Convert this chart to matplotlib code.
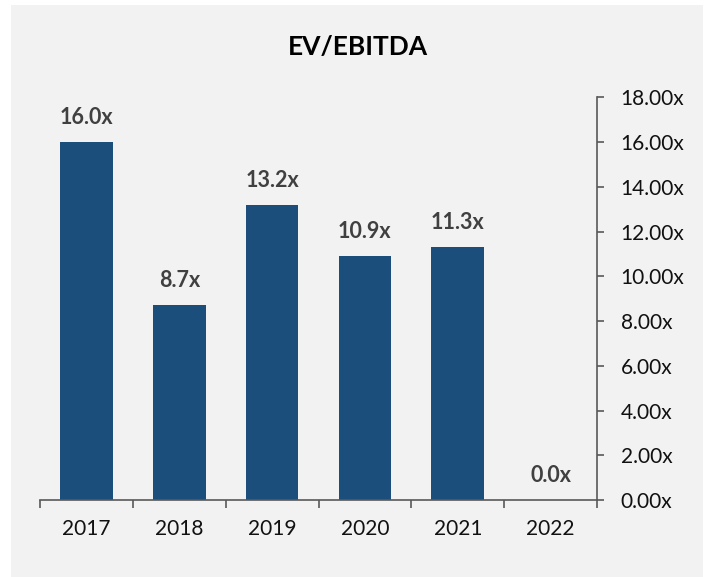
import matplotlib.pyplot as plt
from matplotlib.patches import Rectangle

years = ["2017", "2018", "2019", "2020", "2021", "2022"]
ev_ebitda = [16.0, 8.7, 13.2, 10.9, 11.3, 0.0]
y_ticks = [0, 2, 4, 6, 8, 10, 12, 14, 16, 18]

BAR_COLOR = "#1C4E7C"
BG = "#F2F2F2"

plt.rcParams["font.family"] = ["Lato", "DejaVu Sans"]

fig = plt.figure(figsize=(7.08, 5.77), dpi=100)
fig.patch.set_facecolor("white")
# gray chart area, inset a little from the image edges
fig.patches.append(Rectangle((11 / 708, 0), 692 / 708, 572 / 577,
                             transform=fig.transFigure, facecolor=BG,
                             edgecolor="none", zorder=-10))

ax = fig.add_axes([40 / 708, 77 / 577, 557 / 708, 402.7 / 577])
ax.set_facecolor("none")
ax.set_zorder(5)

x = list(range(len(years)))
ax.bar(x, ev_ebitda, width=0.566, color=BAR_COLOR, zorder=2)

for xi, v in zip(x, ev_ebitda):
    ax.annotate(f"{v:.1f}x", (xi, v), xytext=(0, 10), textcoords="offset points",
                ha="center", va="bottom", fontsize=15.5, fontweight="bold",
                color="#404040")

ax.set_xlim(-0.5, len(years) - 0.5)
ax.set_ylim(0, 18)

# y axis on the right
ax.yaxis.tick_right()
ax.set_yticks(y_ticks)
ax.set_yticklabels([f"{t:.2f}x" for t in y_ticks], fontsize=15, color="#111111")
ax.tick_params(axis="y", direction="out", length=5, width=1.2, color="#595959", pad=12)

# category labels centred, ticks on the boundaries
ax.set_xticks(x)
ax.set_xticklabels(years, fontsize=15, color="#111111")
ax.tick_params(axis="x", which="major", length=0, pad=14)
ax.set_xticks([i - 0.5 for i in range(len(years) + 1)], minor=True)
ax.tick_params(axis="x", which="minor", direction="out", length=6, width=1.2, color="#595959")

for side in ["top", "left"]:
    ax.spines[side].set_visible(False)
for side in ["bottom", "right"]:
    ax.spines[side].set_color("#595959")
    ax.spines[side].set_linewidth(1.2)

fig.text(358 / 708, 1 - 47 / 577, "EV/EBITDA", ha="center", va="center",
         fontsize=19, fontweight="bold", color="black")

fig.savefig("out.png", dpi=100, facecolor=fig.get_facecolor())
